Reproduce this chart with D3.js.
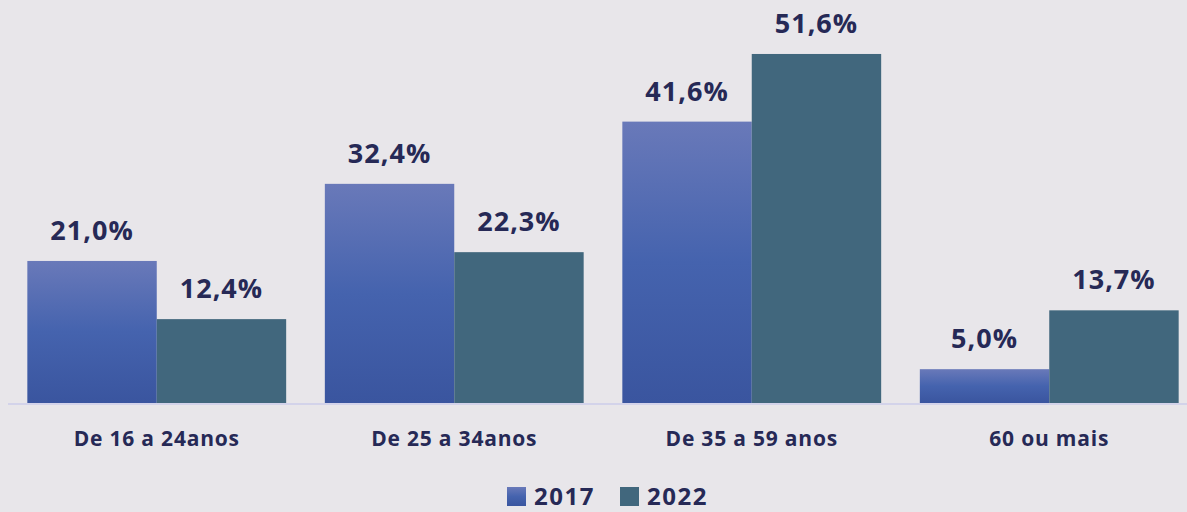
<!DOCTYPE html>
<html>
<head>
<meta charset="utf-8">
<script src="https://cdn.jsdelivr.net/npm/d3@7"></script>
<style>
  body { margin: 0; background: #e8e6ea; }
  svg { display: block; font-family: "Open Sans", sans-serif; }
</style>
</head>
<body>
<svg></svg>
<script>
var width = 1187, height = 512;

var categories = ["De 16 a 24anos", "De 25 a 34anos", "De 35 a 59 anos", "60 ou mais"];
var seriesNames = ["2017", "2022"];
var values2017 = [21.0, 32.4, 41.6, 5.0];
var values2022 = [12.4, 22.3, 51.6, 13.7];

var textColor = "#262956";
var baseY = 403;

var svg = d3.select("svg")
    .attr("width", width)
    .attr("height", height);

svg.append("rect").attr("width", width).attr("height", height).attr("fill", "#e8e6ea");

var defs = svg.append("defs");
var grad = defs.append("linearGradient")
    .attr("id", "g2017")
    .attr("x1", 0).attr("y1", 0).attr("x2", 0).attr("y2", 1);
grad.append("stop").attr("offset", "0%").attr("stop-color", "#6979b9");
grad.append("stop").attr("offset", "50%").attr("stop-color", "#4563ae");
grad.append("stop").attr("offset", "100%").attr("stop-color", "#3a559f");

var fills = ["url(#g2017)", "#41677d"];

var x0 = d3.scaleBand()
    .domain(categories)
    .range([8, 1198])
    .paddingInner(0.13)
    .paddingOuter(0.065);

var x1 = d3.scaleBand()
    .domain(seriesNames)
    .range([0, x0.bandwidth()]);

var y = d3.scaleLinear()
    .domain([0, 60])
    .range([baseY, baseY - 60 * 6.764]);

var rows = categories.map(function(c, i) {
    return {cat: c, vals: [values2017[i], values2022[i]]};
});

// baseline
svg.append("line")
    .attr("x1", 8).attr("x2", width)
    .attr("y1", baseY + 1).attr("y2", baseY + 1)
    .attr("stroke", "#d3d3ea")
    .attr("stroke-width", 2);

var groups = svg.selectAll(".grp")
    .data(rows)
    .enter().append("g")
    .attr("class", "grp")
    .attr("transform", function(d) { return "translate(" + x0(d.cat) + ",0)"; });

groups.selectAll("rect")
    .data(function(d) { return d.vals.map(function(v, j) { return {s: seriesNames[j], v: v, j: j}; }); })
    .enter().append("rect")
    .attr("x", function(d) { return x1(d.s); })
    .attr("y", function(d) { return y(d.v); })
    .attr("width", x1.bandwidth())
    .attr("height", function(d) { return y(0) - y(d.v); })
    .attr("fill", function(d) { return fills[d.j]; });

groups.selectAll(".val")
    .data(function(d) { return d.vals.map(function(v, j) { return {s: seriesNames[j], v: v}; }); })
    .enter().append("text")
    .attr("class", "val")
    .attr("x", function(d) { return x1(d.s) + x1.bandwidth() / 2; })
    .attr("y", function(d) { return y(d.v) - 21; })
    .attr("text-anchor", "middle")
    .attr("fill", textColor)
    .attr("font-size", 27)
    .attr("font-weight", "bold")
    .attr("letter-spacing", 1)
    .text(function(d) { return d.v.toFixed(1).replace(".", ",") + "%"; });

// category axis labels
svg.selectAll(".cat")
    .data(categories)
    .enter().append("text")
    .attr("class", "cat")
    .attr("x", function(d) { return x0(d) + x0.bandwidth() / 2; })
    .attr("y", 446)
    .attr("text-anchor", "middle")
    .attr("fill", textColor)
    .attr("font-size", 21)
    .attr("font-weight", "bold")
    .attr("letter-spacing", 0.8)
    .text(function(d) { return d; });

// legend
var legend = svg.append("g");
var legX = [507, 620];
seriesNames.forEach(function(s, i) {
    legend.append("rect")
        .attr("x", legX[i]).attr("y", 487)
        .attr("width", 19).attr("height", 19)
        .attr("fill", fills[i]);
    legend.append("text")
        .attr("x", legX[i] + 27).attr("y", 505)
        .attr("fill", textColor)
        .attr("font-size", 24)
        .attr("font-weight", "bold")
        .attr("letter-spacing", 1.5)
        .text(s);
});
</script>
</body>
</html>
